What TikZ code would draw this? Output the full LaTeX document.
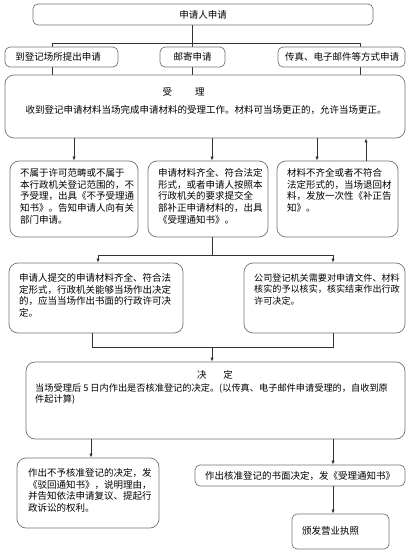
\documentclass[tikz,border=0pt]{standalone}
\usepackage{fontspec}
\setmainfont{Noto Sans CJK SC}
\usetikzlibrary{arrows.meta,backgrounds}
\begin{document}
\begin{tikzpicture}[x=1pt,y=-1pt,
  box/.style={draw=black!55, line width=0.7pt, fill=white, rounded corners=5pt, inner sep=0pt},
  bigbox/.style={box, rounded corners=9pt},
  txt/.style={inner sep=0pt, align=left, anchor=north west, font=\fontsize{9.5}{11.7}\selectfont},
  ctxt/.style={inner sep=0pt, font=\fontsize{9.5}{11.7}\selectfont},
  conn/.style={draw=black!80, line width=0.6pt},
  arr/.style={conn, -{Latex[length=4pt,width=3.2pt]}}]
\useasboundingbox (0,0) rectangle (418,556);
% boxes
\node[box, minimum width=340pt, minimum height=21pt] (n0) at (203,14.5) {};
\node[box, minimum width=113pt, minimum height=20pt] (a2) at (61.5,57) {};
\node[box, minimum width=65pt, minimum height=20pt] (b2) at (192.5,57) {};
\node[box, minimum width=127pt, minimum height=20pt] (c2) at (341.5,57) {};
\node[bigbox, minimum width=400pt, minimum height=63pt] (acc) at (205,106.5) {};
\node[bigbox, minimum width=128pt, minimum height=76pt] (a3) at (74,199) {};
\node[bigbox, minimum width=120pt, minimum height=76pt] (b3) at (208,199) {};
\node[bigbox, minimum width=121pt, minimum height=76pt] (c3) at (337.5,199) {};
\node[bigbox, minimum width=174pt, minimum height=70pt] (a4) at (96,298) {};
\node[bigbox, minimum width=161pt, minimum height=70pt] (b4) at (324.5,298) {};
\node[bigbox, minimum width=379pt, minimum height=77pt] (dec) at (215.5,400.5) {};
\node[bigbox, minimum width=142pt, minimum height=70pt] (rej) at (88,493) {};
\node[box, minimum width=210pt, minimum height=21pt] (app) at (300,475.5) {};
\node[box, minimum width=97pt, minimum height=35pt] (lic) at (340.5,531.5) {};
% texts
\node[ctxt] (t0) at (203,14.5) {申请人申请};
\node[ctxt] (ta2) at (58,57) {到登记场所提出申请};
\node[ctxt] (tb2) at (192.5,57) {邮寄申请};
\node[ctxt] (tc2) at (342,57) {传真、电子邮件等方式申请};
\node[ctxt] (tacc1) at (183.5,92) {受\hspace{23pt}理};
\node[ctxt] (tacc2) at (206,110) {收到登记申请材料当场完成申请材料的受理工作。材料可当场更正的，允许当场更正。};
\node[txt] (ta3) at (20,168.3) {不属于许可范畴或不属于\\本行政机关登记范围的，不\\予受理，出具《不予受理通\\知书》。告知申请人向有关\\部门申请。};
\node[txt] (tb3) at (158,168.3) {申请材料齐全、符合法定\\形式，或者申请人按照本\\行政机关的要求提交全\\部补正申请材料的，出具\\《受理通知书》。};
\node[txt] (tc3) at (287,168.3) {材料不齐全或者不符合\\法定形式的，当场退回材\\料，发放一次性《补正告\\知》。};
\node[txt] (ta4) at (19,273.3) {申请人提交的申请材料齐全、符合法\\定形式，行政机关能够当场作出决定\\的，应当当场作出书面的行政许可决\\定。};
\node[txt, font=\fontsize{9.1}{11.7}\selectfont] (tb4) at (254,273.3) {公司登记机关需要对申请文件、材料\\核实的予以核实，核实结束作出行政\\许可决定。};
\node[ctxt] (tdec1) at (215,375) {决\hspace{17pt}定};
\node[txt, font=\fontsize{9.2}{11.7}\selectfont] (tdec2) at (35,383.3) {当场受理后 5 日内作出是否核准登记的决定。(以传真、电子邮件申请受理的，自收到原\\件起计算)};
\node[txt] (trej) at (28,468.3) {作出不予核准登记的决定，发\\《驳回通知书》，说明理由，\\并告知依法申请复议、提起行\\政诉讼的权利。};
\node[ctxt] (tapp) at (300,475.5) {作出核准登记的书面决定，发《受理通知书》};
\node[txt] (tlic) at (302,526.3) {颁发营业执照};
% helper coordinates
\coordinate (j1) at (192.5,43);
\coordinate (jl) at (52,43);
\coordinate (jr) at (360,43);
\coordinate (x212) at (212,0);
\coordinate (x317) at (317,0);
\coordinate (x366) at (366,0);
\coordinate (j2) at (212,255);
\coordinate (j2l) at (98,255);
\coordinate (j2r) at (333,255);
\coordinate (j3) at (212,347);
\coordinate (j3l) at (92,347);
\coordinate (j3r) at (333,347);
\coordinate (x91) at (91,0);
\coordinate (x333) at (333,0);
% lines behind boxes
\begin{scope}[on background layer]
\draw[conn] (n0.south -| j1) -- (acc.north -| j1);
\draw[conn] (jl) -- (jr);
\draw[conn] (jl) -- (acc.north -| jl);
\draw[conn] (jr) -- (acc.north -| jr);
\end{scope}
% arrows
\draw[arr] (acc.south -| a3) -- (a3.north);
\draw[arr] (acc.south -| x212) -- (b3.north -| x212);
\draw[arr] (acc.south -| x317) -- (c3.north -| x317);
\draw[arr] (c3.north -| x366) -- (acc.south -| x366);
\draw[conn] (b3.south -| j2) -- (j2);
\draw[conn] (j2l) -- (j2r);
\draw[arr] (j2l) -- (a4.north -| j2l);
\draw[arr] (j2r) -- (b4.north -| j2r);
\draw[conn] (a4.south -| j3l) -- (j3l) -- (j3r) -- (b4.south -| j3r);
\draw[arr] (j3) -- (dec.north -| j3);
\draw[arr] (dec.south -| x91) -- (rej.north -| x91);
\draw[arr] (dec.south -| x333) -- (app.north -| x333);
\draw[arr] (app.south -| x333) -- (lic.north -| x333);
\end{tikzpicture}
\end{document}
